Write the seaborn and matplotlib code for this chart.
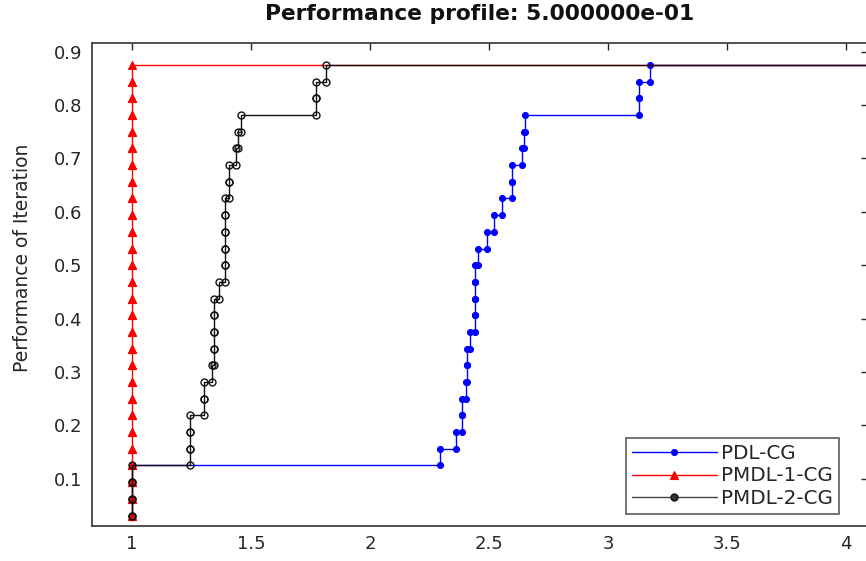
import numpy as np
import pandas as pd
import seaborn as sns
import matplotlib.pyplot as plt

# performance profile data: sorted ratios of the solved problems (32 problems, 4 failed by all)
n_problems = 32
n_failed = 4
fail_ratio = 6.35

pdl_cg = [1.0, 1.0, 1.0, 1.0, 2.293, 2.363, 2.388, 2.388, 2.405, 2.409, 2.409, 2.42,
          2.44, 2.44, 2.44, 2.44, 2.455, 2.49, 2.52, 2.555, 2.598, 2.598, 2.638, 2.645,
          2.65, 3.13, 3.13, 3.175]
pmdl_1_cg = [1.0] * 28
pmdl_2_cg = [1.0, 1.0, 1.0, 1.0, 1.242, 1.242, 1.242, 1.302, 1.302, 1.335, 1.345, 1.345,
             1.345, 1.345, 1.366, 1.392, 1.392, 1.392, 1.392, 1.392, 1.408, 1.408, 1.436,
             1.445, 1.46, 1.772, 1.772, 1.816]

solvers = ["PDL-CG", "PMDL-1-CG", "PMDL-2-CG"]
ratios = [pdl_cg, pmdl_1_cg, pmdl_2_cg]

xticks = [1, 1.5, 2, 2.5, 3, 3.5, 4]
xtick_labels = ["1", "1.5", "2", "2.5", "3", "3.5", "4"]
yticks = [0.1, 0.2, 0.3, 0.4, 0.5, 0.6, 0.7, 0.8, 0.9]
ytick_labels = ["0.1", "0.2", "0.3", "0.4", "0.5", "0.6", "0.7", "0.8", "0.9"]

# line styles like the matlab plot
styles = {
    "PDL-CG": dict(color="#0000ff", marker="o", markersize=4.3, markerfacecolor="#0000ff",
                   markeredgecolor="#0000ff", markeredgewidth=0.8),
    "PMDL-1-CG": dict(color="#ff0000", marker="^", markersize=5.3, markerfacecolor="#ff0000",
                      markeredgecolor="#ff0000", markeredgewidth=0.8),
    "PMDL-2-CG": dict(color="#111111", marker="o", markersize=5, markerfacecolor="none",
                      markeredgecolor="#111111", markeredgewidth=1.0),
}

sns.set_style("white")
plt.rcParams['font.family'] = ['DejaVu Sans']

fig = plt.figure(figsize=(8.66, 5.61), dpi=100)
ax = fig.add_axes([92 / 866, 35.5 / 561, 776 / 866, 483 / 561])

rho = np.arange(1, n_problems + 1) / n_problems
for name, r in zip(solvers, ratios):
    r = np.array(r + [fail_ratio] * n_failed)
    # stairs vertices
    stairs = pd.DataFrame({"tau": np.repeat(r, 2)[1:], "rho": np.repeat(rho, 2)[:-1]})
    sns.lineplot(data=stairs, x="tau", y="rho", estimator=None, sort=False,
                 linewidth=1.0, label=name, ax=ax, **styles[name])

ax.set_xlim(0.832, 4.092)
ax.set_ylim(0.0126, 0.917)
ax.set_xticks(xticks, labels=xtick_labels)
ax.set_yticks(yticks, labels=ytick_labels)
ax.tick_params(direction="in", top=True, right=True, length=5, width=1,
               labelsize=13, colors="#262626", pad=7)
for s in ax.spines.values():
    s.set_color("#333333")
    s.set_linewidth(1.2)

ax.set_xlabel("")
ax.set_ylabel("Performance of Iteration", fontsize=13.5, color="#262626")
ax.yaxis.set_label_coords(-0.077, 0.555)
ax.set_title("Performance profile: 5.000000e-01", fontsize=15.7, fontweight="bold",
             color="#111111", pad=16)

leg = ax.legend(loc="lower right", bbox_to_anchor=(0.9626, 0.0238), fontsize=14.3,
                frameon=True, fancybox=False, edgecolor="#333333", handlelength=4.3,
                handletextpad=0.2, borderpad=0.3, labelspacing=0.18, borderaxespad=0)
leg.get_frame().set_linewidth(1.2)
leg.legend_handles[2].set_markerfacecolor("#333333")
leg.legend_handles[2].set_color("#444444")

fig.savefig("out.png", dpi=100)
